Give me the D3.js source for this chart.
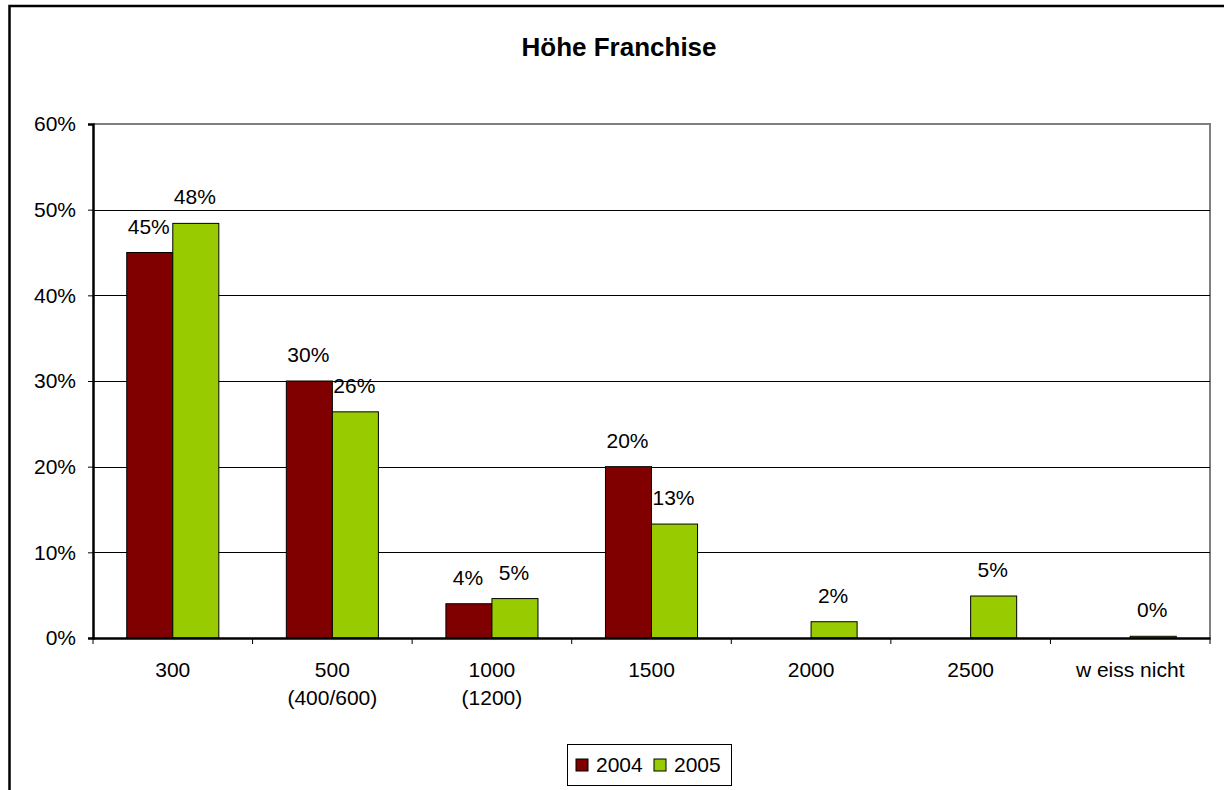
<!DOCTYPE html>
<html>
<head>
<meta charset="utf-8">
<script src="https://cdn.jsdelivr.net/npm/d3@7"></script>
<style>
  body { margin: 0; background: #fff; }
  text { font-family: "Liberation Sans", Arial, sans-serif; fill: #000; }
</style>
</head>
<body>
<div id="main"></div>
<script>
// data
var categories = ["300", "500", "1000", "1500", "2000", "2500", "w eiss nicht"]
var subLabels = ["", "(400/600)", "(1200)", "", "", "", ""]
var series = ["2004", "2005"]
var values2004 = [45, 30, 4, 20, null, null, null]
var values2005 = [48.4, 26.4, 4.6, 13.3, 1.9, 4.9, 0.2]
var yTicks = [0, 10, 20, 30, 40, 50, 60]

var colors = { "2004": "#800000", "2005": "#99cc00" }

var W = 1224, H = 790
var plot = { left: 93, right: 1210, top: 124, bottom: 638 }

var svg = d3.select("#main").append("svg")
  .attr("width", W).attr("height", H)

// outer chart border (runs off the right and bottom edges)
svg.append("rect")
  .attr("x", 9.5).attr("y", 6)
  .attr("width", 1240).attr("height", 820)
  .attr("fill", "none").attr("stroke", "#000").attr("stroke-width", 2.5)

svg.append("text")
  .attr("x", 619).attr("y", 56)
  .attr("text-anchor", "middle")
  .attr("font-size", "26px").attr("font-weight", "bold")
  .text("Höhe Franchise")

var y = d3.scaleLinear().domain([0, 60]).range([plot.bottom, plot.top])
var x0 = d3.scaleBand().domain(categories).range([plot.left, plot.right]).padding(0)
var groupW = x0.bandwidth() * 0.577
var x1 = d3.scaleBand().domain(series)
  .range([(x0.bandwidth() - groupW) / 2, (x0.bandwidth() + groupW) / 2])

// plot area frame (top and right in grey)
svg.append("path")
  .attr("d", `M${plot.left},${plot.top}H${plot.right}V${plot.bottom}`)
  .attr("fill", "none").attr("stroke", "#7f7f7f").attr("stroke-width", 2)

// gridlines
svg.append("g").selectAll("line")
  .data(yTicks.filter(d => d > 0 && d < 60))
  .enter().append("line")
  .attr("x1", plot.left).attr("x2", plot.right)
  .attr("y1", d => Math.round(y(d)) + 0.5).attr("y2", d => Math.round(y(d)) + 0.5)
  .attr("stroke", "#000").attr("stroke-width", 1.2)

// y axis
var yAxis = svg.append("g")
  .attr("transform", `translate(${plot.left},0)`)
  .call(d3.axisLeft(y).tickValues(yTicks).tickSize(5).tickPadding(12).tickFormat(d => d + "%"))
yAxis.select(".domain").attr("stroke", "#000").attr("stroke-width", 2.5)
yAxis.selectAll(".tick line").attr("stroke", "#000")
yAxis.selectAll(".tick text").attr("font-size", "21px").attr("font-family", "Liberation Sans, Arial, sans-serif").attr("fill", "#000")

// bars
var rows = categories.map((c, i) => ({ cat: c, vals: [
  { s: "2004", v: values2004[i] }, { s: "2005", v: values2005[i] }] }))

var groups = svg.append("g").selectAll("g")
  .data(rows)
  .enter().append("g")
  .attr("transform", d => `translate(${x0(d.cat)},0)`)

groups.selectAll("rect")
  .data(d => d.vals.filter(v => v.v !== null))
  .enter().append("rect")
  .attr("x", d => x1(d.s))
  .attr("width", x1.bandwidth())
  .attr("y", d => y(d.v))
  .attr("height", d => y(0) - y(d.v))
  .attr("fill", d => colors[d.s])
  .attr("stroke", "#000").attr("stroke-width", 1)

groups.selectAll("text")
  .data(d => d.vals.filter(v => v.v !== null))
  .enter().append("text")
  .attr("x", d => x1(d.s) + x1.bandwidth() / 2 - 1)
  .attr("y", d => y(d.v) - 19)
  .attr("text-anchor", "middle")
  .attr("font-size", "21px")
  .text(d => Math.round(d.v) + "%")

// x axis
var xAxis = svg.append("g")
  .attr("transform", `translate(0,${plot.bottom})`)
  .call(d3.axisBottom(x0).tickSize(0).tickFormat(""))
xAxis.select(".domain").attr("stroke", "#000").attr("stroke-width", 2.5)

// ticks at category boundaries
svg.append("g").selectAll("line")
  .data(categories.concat(["end"]))
  .enter().append("line")
  .attr("x1", (d, i) => i < categories.length ? x0(d) : plot.right)
  .attr("x2", (d, i) => i < categories.length ? x0(d) : plot.right)
  .attr("y1", plot.bottom).attr("y2", plot.bottom + 6)
  .attr("stroke", "#000")

var catLabels = svg.append("g").selectAll("text")
  .data(categories)
  .enter().append("text")
  .attr("x", d => x0(d) + x0.bandwidth() / 2)
  .attr("y", 677)
  .attr("text-anchor", "middle")
  .attr("font-size", "21px")
catLabels.append("tspan").text(d => d)
catLabels.append("tspan")
  .attr("x", d => x0(d) + x0.bandwidth() / 2)
  .attr("dy", 28)
  .text((d, i) => subLabels[i])

// legend
var legend = svg.append("g")
legend.append("rect")
  .attr("x", 567.5).attr("y", 744.5).attr("width", 164).attr("height", 41)
  .attr("fill", "#fff").attr("stroke", "#000").attr("stroke-width", 1)
var legX = d3.scaleOrdinal().domain(series).range([576, 654])
var items = legend.selectAll("g.item")
  .data(series)
  .enter().append("g").attr("class", "item")
items.append("rect")
  .attr("x", d => legX(d)).attr("y", 759)
  .attr("width", 12).attr("height", 12)
  .attr("fill", d => colors[d]).attr("stroke", "#000")
items.append("text")
  .attr("x", d => legX(d) + 20).attr("y", 772)
  .attr("font-size", "21px")
  .text(d => d)
</script>
</body>
</html>
